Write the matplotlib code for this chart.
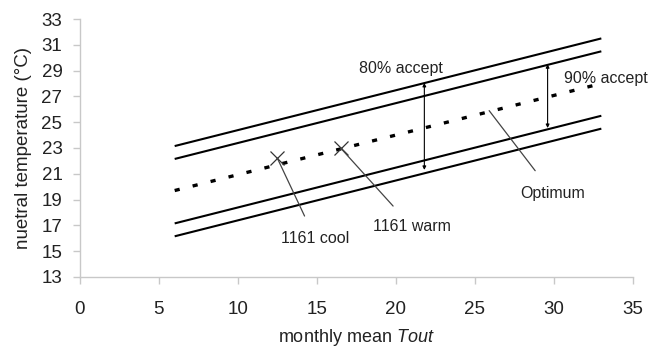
import matplotlib
matplotlib.use("Agg")
import matplotlib.pyplot as plt

# Data
x_ends = [6, 33]
upper80 = [23.15, 31.5]
upper90 = [22.15, 30.5]
optimum = [19.7, 28.0]
lower90 = [17.15, 25.5]
lower80 = [16.15, 24.5]
points_x = [12.5, 16.5]
points_y = [22.2, 23.0]
point_labels = ["1161 cool", "1161 warm"]
x_ticks = [0, 5, 10, 15, 20, 25, 30, 35]
y_ticks = [13, 15, 17, 19, 21, 23, 25, 27, 29, 31, 33]

plt.rcParams['font.family'] = ['Liberation Sans', 'DejaVu Sans']
plt.rcParams['mathtext.fontset'] = 'custom'
plt.rcParams['mathtext.it'] = 'Liberation Sans:italic'
plt.rcParams['mathtext.rm'] = 'Liberation Sans'

fig = plt.figure(figsize=(6.6, 3.47), dpi=100)
ax = fig.add_axes([0.121, 0.202, 0.838, 0.743])

for ys in (upper80, upper90, lower90, lower80):
    ax.plot(x_ends, ys, color='black', lw=1.5, solid_capstyle='butt')
ax.plot(x_ends, optimum, color='black', lw=2.4, dashes=(1.55, 4.0), dash_capstyle='butt')

ax.plot(points_x, points_y, linestyle='none', marker='x', markersize=10,
        mew=0.9, color='#333333')

ax.set_xlim(0, 35)
ax.set_ylim(13, 33)
ax.set_xticks(x_ticks)
ax.set_yticks(y_ticks)

for s in ('top', 'right'):
    ax.spines[s].set_visible(False)
for s in ('left', 'bottom'):
    ax.spines[s].set_color('#c8c8c8')
    ax.spines[s].set_linewidth(1.0)
ax.tick_params(axis='both', colors='#c8c8c8', labelcolor='#222222',
               labelsize=13.5, length=5, width=1.0, direction='out')
ax.tick_params(axis='y', pad=7.5)
ax.tick_params(axis='x', pad=12)

ax.set_ylabel('nuetral temperature (°C)', fontsize=13.5, color='#222222', labelpad=7)
ax.set_xlabel('monthly mean $\\mathit{Tout}$', fontsize=13, color='#222222', labelpad=7)

gray = '#444444'
fs = 11.5
# point annotations
ax.annotate(point_labels[0], xy=(points_x[0], points_y[0]), xytext=(14.9, 15.95),
            fontsize=fs, ha='center', va='center', color='#222222',
            arrowprops=dict(arrowstyle='-', color=gray, lw=0.9,
                            shrinkA=10, shrinkB=0))
ax.annotate(point_labels[1], xy=(points_x[1], points_y[1]), xytext=(21.0, 16.9),
            fontsize=fs, ha='center', va='center', color='#222222',
            arrowprops=dict(arrowstyle='-', color=gray, lw=0.9,
                            shrinkA=10, shrinkB=0))
ax.annotate('Optimum', xy=(25.9, 25.9), xytext=(29.9, 19.5),
            fontsize=fs, ha='center', va='center', color='#222222',
            arrowprops=dict(arrowstyle='-', color=gray, lw=0.9,
                            shrinkA=11, shrinkB=0))

# acceptability ranges
ax.annotate('', xy=(21.8, 28.05), xytext=(21.8, 21.3),
            arrowprops=dict(arrowstyle='<|-|>', color='black', lw=0.8,
                            mutation_scale=5, shrinkA=0, shrinkB=0))
ax.text(20.3, 29.2, '80% accept', fontsize=fs, ha='center', va='center', color='#222222')
ax.annotate('', xy=(29.6, 29.5), xytext=(29.6, 24.55),
            arrowprops=dict(arrowstyle='<|-|>', color='black', lw=0.8,
                            mutation_scale=5, shrinkA=0, shrinkB=0))
ax.text(33.3, 28.4, '90% accept', fontsize=fs, ha='center', va='center',
        color='#222222', clip_on=False)

fig.savefig('out.png', dpi=100)
